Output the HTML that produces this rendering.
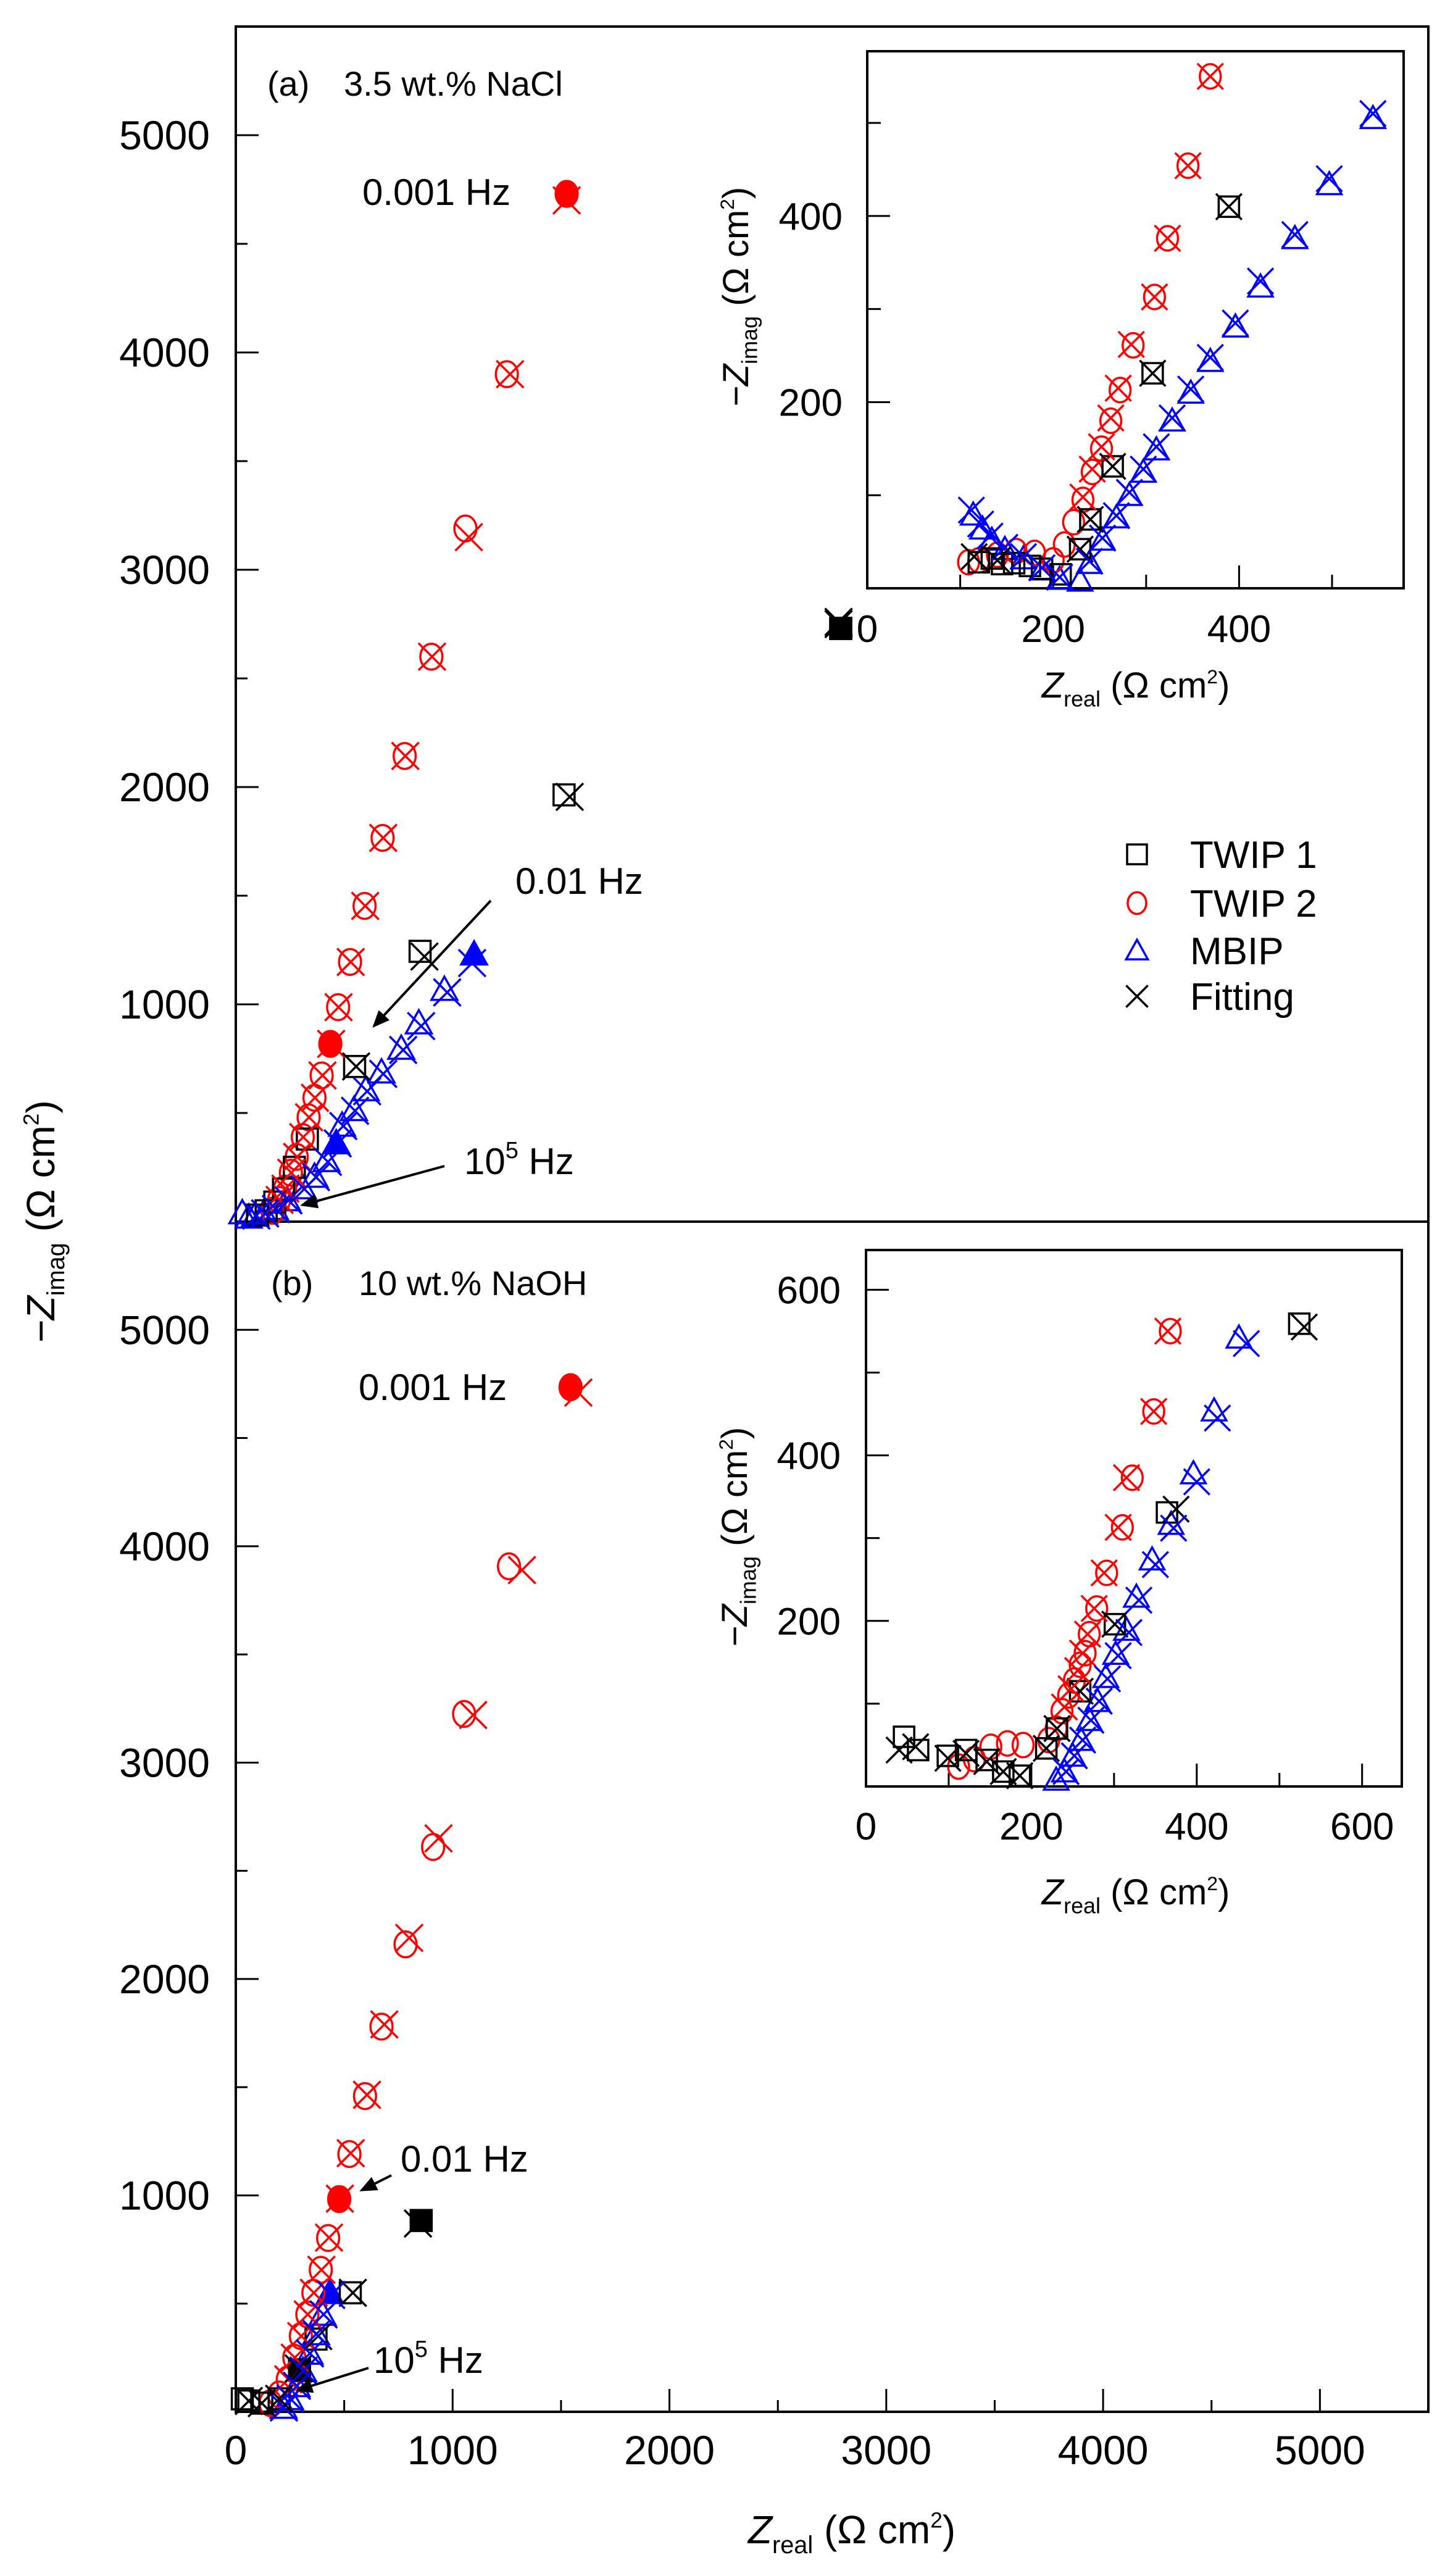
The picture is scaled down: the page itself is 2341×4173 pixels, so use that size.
<!DOCTYPE html>
<html><head><meta charset="utf-8"><style>
html,body{margin:0;padding:0;background:#fff;}
svg{display:block;font-family:"Liberation Sans",Arial,sans-serif;}
</style></head><body>
<svg id="chart" width="2341" height="4173" viewBox="0 0 2341 4173" xmlns="http://www.w3.org/2000/svg">
<rect x="0" y="0" width="2341" height="4173" fill="#fff"/>
<g id="layer"></g>
</svg>
<script>
// ===== Panel (a) main: 3.5 wt.% NaCl =====
const aTwip1X = [1514, 850, 548, 330, 270, 220, 180, 140, 100];
const aTwip1Y = [1964, 1244, 714, 380, 250, 150, 90, 50, 30];
const aTwip1FilledX = [2790];
const aTwip1FilledY = [2730];
const aTwip2X = [1250, 1059, 902, 779, 677, 594, 527, 472, 396, 363, 336, 309, 281, 254, 227, 200, 170];
const aTwip2Y = [3900, 3190, 2600, 2143, 1766, 1453, 1195, 987, 673, 570, 480, 389, 298, 225, 152, 100, 50];
const aTwip2FilledX = [1526, 436];
const aTwip2FilledY = [4730, 818];
const aMbipX = [962, 844, 763, 672, 599, 545, 490, 418, 363, 309, 236, 180, 130, 90, 60, 30];
const aMbipY = [1068, 914, 797, 688, 606, 515, 443, 280, 208, 155, 100, 60, 40, 30, 20, 40];
const aMbipFilledX = [1099, 463];
const aMbipFilledY = [1231, 362];
const aFitX = [1526, 1265, 1075, 905, 782, 680, 597, 530, 474, 440, 400, 365, 338, 311, 283, 256, 229, 202, 2780, 1540, 870, 555, 1090, 975, 855, 772, 680, 606, 550, 496, 470, 425, 370, 316, 243, 185, 135, 95];
const aFitY = [4700, 3900, 3150, 2600, 2143, 1766, 1453, 1195, 987, 818, 673, 570, 480, 389, 298, 225, 152, 100, 2750, 1955, 1220, 714, 1190, 1055, 900, 790, 680, 600, 510, 440, 360, 275, 205, 150, 98, 58, 38, 28];

// ===== Panel (b) main: 10 wt.% NaOH =====
const bTwip1X = [528, 370, 200, 120, 60, 30];
const bTwip1Y = [550, 336, 60, 40, 50, 60];
const bTwip1FilledX = [855, 294];
const bTwip1FilledY = [884, 194];
const bTwip2X = [1260, 1053, 910, 783, 672, 596, 524, 426, 392, 358, 330, 300, 270, 240, 200, 160];
const bTwip2Y = [3907, 3225, 2610, 2160, 1780, 1459, 1191, 803, 656, 550, 450, 350, 250, 150, 80, 40];
const bTwip2FilledX = [1544, 477];
const bTwip2FilledY = [4735, 983];
const bMbipX = [400, 370, 340, 310, 280, 250, 220];
const bMbipY = [450, 360, 270, 190, 120, 60, 20];
const bMbipFilledX = [434];
const bMbipFilledY = [550];
const bFitX = [1580, 1320, 1095, 935, 800, 685, 605, 530, 480, 430, 395, 360, 332, 302, 272, 242, 840, 540, 380, 290, 440, 405, 372, 342, 312, 282, 252, 222, 60, 120, 200];
const bFitY = [4710, 3890, 3220, 2650, 2190, 1790, 1465, 1195, 985, 805, 656, 550, 450, 350, 250, 150, 870, 550, 350, 200, 540, 450, 360, 270, 190, 120, 60, 20, 50, 40, 60];

// ===== Inset (a) =====
const iaTwip1X = [389, 307, 264, 240, 229, 134, 158, 188, 208, 120, 145, 175];
const iaTwip1Y = [410, 231, 131, 74, 42, 32, 27, 21, 15, 28, 26, 24];
const iaTwip2X = [369, 345, 323, 309, 286, 272, 262, 252, 242, 232, 222, 212, 200, 180, 160, 140, 120, 109];
const iaTwip2Y = [550, 454, 376, 313, 261, 213, 180, 150, 125, 95, 71, 47, 30, 38, 40, 36, 30, 28];
const iaMbipX = [544, 497, 460, 423, 396, 369, 348, 328, 311, 297, 282, 268, 253, 239, 229, 114, 124, 134, 148, 168, 188, 207];
const iaMbipY = [505, 434, 376, 324, 281, 244, 210, 180, 149, 125, 100, 76, 52, 27, 8, 79, 64, 52, 42, 32, 20, 10];
const iaFitX = [369, 345, 323, 309, 284, 270, 262, 252, 242, 232, 389, 307, 264, 240, 229, 544, 497, 460, 423, 396, 369, 348, 328, 311, 297, 282, 268, 253, 239, 112, 122, 132, 148, 168, 188, 207, 115, 140];
const iaFitY = [550, 454, 376, 313, 262, 215, 183, 152, 128, 98, 410, 231, 131, 74, 42, 510, 440, 380, 330, 285, 248, 214, 183, 152, 128, 103, 78, 54, 29, 84, 69, 56, 44, 34, 22, 12, 34, 30];

// ===== Inset (b) =====
const ibTwip1X = [524, 364, 301, 259, 231, 218, 46, 63, 99, 121, 146, 166, 186];
const ibTwip1Y = [559, 331, 196, 115, 70, 46, 60, 44, 37, 44, 32, 18, 13];
const ibTwip2X = [368, 348, 322, 310, 291, 279, 270, 265, 259, 252, 245, 237, 230, 221, 190, 171, 151, 131, 112];
const ibTwip2Y = [550, 453, 373, 313, 258, 215, 184, 161, 147, 128, 110, 91, 70, 56, 50, 52, 48, 33, 24];
const ibMbipX = [451, 421, 396, 369, 346, 327, 315, 302, 290, 280, 270, 260, 250, 240, 230];
const ibMbipY = [542, 454, 378, 317, 274, 229, 189, 160, 132, 103, 80, 56, 37, 18, 8];
const ibFitX = [530, 375, 301, 259, 231, 218, 40, 60, 99, 121, 146, 166, 186, 365, 348, 315, 305, 288, 276, 268, 262, 256, 248, 240, 460, 425, 400, 372, 350, 330, 318, 305, 292, 282, 272, 262, 252, 242];
const ibFitY = [555, 335, 196, 115, 70, 46, 44, 48, 34, 40, 30, 18, 13, 550, 453, 373, 313, 258, 215, 184, 161, 140, 118, 96, 535, 445, 368, 312, 268, 225, 186, 158, 130, 103, 80, 56, 37, 18];

// Tick label arrays
const mainXTicks = [0, 1000, 2000, 3000, 4000, 5000];
const mainYTicks = [1000, 2000, 3000, 4000, 5000];
const iaTicks = [0, 200, 400];
const ibTicks = [0, 200, 400, 600];

const NS = 'http://www.w3.org/2000/svg';
const layer = document.getElementById('layer');
function mk(tag, attrs, parent) {
  const e = document.createElementNS(NS, tag);
  for (const k in attrs) e.setAttribute(k, attrs[k]);
  (parent || layer).appendChild(e);
  return e;
}
function makeScale(d0, d1, p0, p1) { return v => p0 + (v - d0) * (p1 - p0) / (d1 - d0); }

const COL = {k: '#000', r: '#ff0000', b: '#0000ff'};

function marker(g, type, cx, cy, color, filled, s) {
  let e;
  const sw = 3.5;
  if (type === 'sq') {
    e = mk('rect', {x: cx - s / 2, y: cy - s / 2, width: s, height: s, fill: filled ? color : 'none', stroke: color, 'stroke-width': sw}, g);
  } else if (type === 'ci') {
    e = mk('ellipse', {cx: cx, cy: cy, rx: s * 0.47, ry: s * 0.55, fill: filled ? color : 'none', stroke: color, 'stroke-width': sw}, g);
  } else if (type === 'tr') {
    const h = s * 0.55;
    e = mk('polygon', {points: `${cx},${cy - h} ${cx - h},${cy + h * 0.8} ${cx + h},${cy + h * 0.8}`, fill: filled ? color : 'none', stroke: color, 'stroke-width': sw}, g);
  } else {
    const h = s * 0.55;
    e = mk('path', {d: `M${cx - h},${cy - h}L${cx + h},${cy + h}M${cx + h},${cy - h}L${cx - h},${cy + h}`, stroke: color, 'stroke-width': sw, fill: 'none'}, g);
  }
  return e;
}

function series(g, xs, ys, sx, sy, type, color, filled, s, name) {
  for (let i = 0; i < xs.length; i++) {
    const e = marker(g, type, sx(xs[i]), sy(ys[i]), color, filled, s);
    
    
  }
}

function text(str, x, y, size, anchor, name, parent) {
  const t = mk('text', {x: x, y: y, 'font-size': size, 'text-anchor': anchor || 'start', fill: '#000'}, parent);
  t.textContent = str;
  
  
  return t;
}

function zTitle(x, y, size, sub, minus, rotate, name) {
  const t = mk('text', {x: x, y: y, 'font-size': size, 'text-anchor': 'middle', fill: '#000'});
  if (rotate) t.setAttribute('transform', `rotate(-90 ${x} ${y})`);
  
  
  const a = mk('tspan', {'font-style': 'italic'}, t); a.textContent = (minus ? '\u2212' : '') + 'Z';
  const b = mk('tspan', {'font-size': size * 0.62, dy: size * 0.25}, t); b.textContent = sub;
  const c = mk('tspan', {dy: -size * 0.25}, t); c.textContent = ' (\u03A9 cm';
  const d = mk('tspan', {'font-size': size * 0.55, dy: -size * 0.4}, t); d.textContent = '2';
  const e = mk('tspan', {dy: size * 0.4}, t); e.textContent = ')';
  return t;
}

// ---------- main panels ----------
const MX0 = 382, MX1 = 2314;
const mx = makeScale(0, 5500, MX0, MX1);
function mainPanel(top, bottom, label, showX) {
  const my = makeScale(0, 5500, bottom, top);
  const g = mk('g', {});
  
  
  mk('rect', {x: MX0, y: top, width: MX1 - MX0, height: bottom - top, fill: 'none', stroke: '#000', 'stroke-width': 4}, g);
  for (let v = 500; v < 5500; v += 500) {
    const major = v % 1000 === 0;
    mk('line', {x1: MX0, x2: MX0 + (major ? 37 : 19), y1: my(v), y2: my(v), stroke: '#000', 'stroke-width': 3}, g);
  }
  if (showX) {
    for (let v = 500; v < 5500; v += 500) {
      const major = v % 1000 === 0;
      mk('line', {x1: mx(v), x2: mx(v), y1: bottom, y2: bottom - (major ? 37 : 19), stroke: '#000', 'stroke-width': 3}, g);
    }
  }
  mainYTicks.forEach(v => text(String(v), 340, my(v) + 23, 66, 'end', label + '-y-tick-label'));
  return my;
}

const myA = mainPanel(43, 1979, 'panel-a', false);
const myB = mainPanel(1979, 3907, 'panel-b', true);
mainXTicks.forEach(v => text(String(v), mx(v), 3992, 66, 'middle', 'x-tick-label'));

// panel a data
const gA = mk('g', {});


series(gA, aMbipX, aMbipY, mx, myA, 'tr', COL.b, false, 38, 'mbip-point');
series(gA, aMbipFilledX, aMbipFilledY, mx, myA, 'tr', COL.b, true, 38, 'mbip-filled-point');
series(gA, aTwip2X, aTwip2Y, mx, myA, 'ci', COL.r, false, 38, 'twip2-point');
series(gA, aTwip2FilledX, aTwip2FilledY, mx, myA, 'ci', COL.r, true, 38, 'twip2-filled-point');
series(gA, aTwip1X, aTwip1Y, mx, myA, 'sq', COL.k, false, 34, 'twip1-point');
series(gA, aTwip1FilledX, aTwip1FilledY, mx, myA, 'sq', COL.k, true, 34, 'twip1-filled-point');
series(gA, aFitX.slice(0, 18), aFitY.slice(0, 18), mx, myA, 'x', COL.r, false, 40, 'fit-twip2');
series(gA, aFitX.slice(18, 22), aFitY.slice(18, 22), mx, myA, 'x', COL.k, false, 40, 'fit-twip1');
series(gA, aFitX.slice(22), aFitY.slice(22), mx, myA, 'x', COL.b, false, 40, 'fit-mbip');

// panel b data
const gB = mk('g', {});


series(gB, bMbipX, bMbipY, mx, myB, 'tr', COL.b, false, 38, 'mbip-point');
series(gB, bMbipFilledX, bMbipFilledY, mx, myB, 'tr', COL.b, true, 38, 'mbip-filled-point');
series(gB, bTwip2X, bTwip2Y, mx, myB, 'ci', COL.r, false, 38, 'twip2-point');
series(gB, bTwip2FilledX, bTwip2FilledY, mx, myB, 'ci', COL.r, true, 38, 'twip2-filled-point');
series(gB, bTwip1X, bTwip1Y, mx, myB, 'sq', COL.k, false, 34, 'twip1-point');
series(gB, bTwip1FilledX, bTwip1FilledY, mx, myB, 'sq', COL.k, true, 34, 'twip1-filled-point');
series(gB, bFitX.slice(0, 16), bFitY.slice(0, 16), mx, myB, 'x', COL.r, false, 40, 'fit-twip2');
series(gB, bFitX.slice(16, 20), bFitY.slice(16, 20), mx, myB, 'x', COL.k, false, 40, 'fit-twip1');
series(gB, bFitX.slice(20, 28), bFitY.slice(20, 28), mx, myB, 'x', COL.b, false, 40, 'fit-mbip');
series(gB, bFitX.slice(28), bFitY.slice(28), mx, myB, 'x', COL.k, false, 40, 'fit-twip1');

// ---------- insets ----------
function inset(L, T, R, B, max, ticks, minorStep, name, d) {
  const sx = makeScale(0, max, L, R);
  const sy = makeScale(0, max, B, T);
  const g = mk('g', {});
  
  
  mk('rect', {x: L, y: T, width: R - L, height: B - T, fill: '#fff', stroke: '#000', 'stroke-width': 4}, g);
  for (let v = minorStep; v < max; v += minorStep) {
    const major = ticks.indexOf(v) >= 0;
    mk('line', {x1: L, x2: L + (major ? 37 : 22), y1: sy(v), y2: sy(v), stroke: '#000', 'stroke-width': 3}, g);
    mk('line', {x1: sx(v), x2: sx(v), y1: B, y2: B - (major ? 37 : 22), stroke: '#000', 'stroke-width': 3}, g);
  }
  const gs = mk('g', {}, g);
  series(gs, d.mx, d.my, sx, sy, 'tr', COL.b, false, 36, 'inset-mbip-point');
  series(gs, d.rx, d.ry, sx, sy, 'ci', COL.r, false, 36, 'inset-twip2-point');
  series(gs, d.kx, d.ky, sx, sy, 'sq', COL.k, false, 33, 'inset-twip1-point');
  for (let i = 0; i < d.fx.length; i++) {
    const c = d.fc(i);
    const e = marker(gs, 'x', sx(d.fx[i]), sy(d.fy[i]), c, false, 38);
    
    
  }
  return {sx, sy};
}

const A = inset(1405, 83, 2274, 953, 577, [200, 400], 100, 'inset-a', {
  mx: iaMbipX, my: iaMbipY, rx: iaTwip2X, ry: iaTwip2Y, kx: iaTwip1X, ky: iaTwip1Y,
  fx: iaFitX, fy: iaFitY, fc: i => i < 10 ? COL.r : (i < 15 ? COL.k : (i < 36 ? COL.b : COL.k))
});
iaTicks.forEach(v => text(String(v), A.sx(v), 1040, 62, 'middle', 'inset-a-x-tick-label'));
[200, 400].forEach(v => text(String(v), 1365, A.sy(v) + 22, 62, 'end', 'inset-a-y-tick-label'));
// stray main-plot TWIP1 0.001 Hz point overlapping the label region
const stray = marker(layer, 'sq', mx(2790), myA(2730), COL.k, true, 34);


const strayX = marker(layer, 'x', mx(2780), myA(2760), COL.k, false, 40);



const Bi = inset(1403, 2025, 2271, 2894, 648, [200, 400, 600], 100, 'inset-b', {
  mx: ibMbipX, my: ibMbipY, rx: ibTwip2X, ry: ibTwip2Y, kx: ibTwip1X, ky: ibTwip1Y,
  fx: ibFitX, fy: ibFitY, fc: i => i < 13 ? COL.k : (i < 24 ? COL.r : COL.b)
});
ibTicks.forEach(v => text(String(v), Bi.sx(v), 2980, 62, 'middle', 'inset-b-x-tick-label'));
[200, 400, 600].forEach(v => text(String(v), 1362, Bi.sy(v) + 22, 62, 'end', 'inset-b-y-tick-label'));

// ---------- titles ----------
zTitle(88, 1979, 64, 'imag', true, true, 'y-axis-title');
zTitle(1380, 4120, 64, 'real', false, false, 'x-axis-title');
zTitle(1212, 481, 58, 'imag', true, true, 'inset-a-y-axis-title');
zTitle(1840, 1130, 58, 'real', false, false, 'inset-a-x-axis-title');
zTitle(1210, 2490, 58, 'imag', true, true, 'inset-b-y-axis-title');
zTitle(1840, 3085, 58, 'real', false, false, 'inset-b-x-axis-title');

// ---------- annotations ----------
text('(a)', 433, 155, 56, 'start', 'panel-a-label');
text('3.5 wt.% NaCl', 557, 155, 56, 'start', 'panel-a-electrolyte');
text('0.001 Hz', 587, 332, 60, 'start', 'panel-a-0001hz-label');
text('0.01 Hz', 835, 1448, 60, 'start', 'panel-a-001hz-label');
const a5 = text('10', 752, 1902, 60, 'start', 'panel-a-1e5hz-label');
const a5s = mk('tspan', {'font-size': 38, dy: -26}, a5); a5s.textContent = '5';
const a5h = mk('tspan', {dy: 26}, a5); a5h.textContent = ' Hz';
text('(b)', 439, 2098, 56, 'start', 'panel-b-label');
text('10 wt.% NaOH', 581, 2098, 56, 'start', 'panel-b-electrolyte');
text('0.001 Hz', 581, 2268, 60, 'start', 'panel-b-0001hz-label');
text('0.01 Hz', 649, 3518, 60, 'start', 'panel-b-001hz-label');
const b5 = text('10', 605, 3844, 60, 'start', 'panel-b-1e5hz-label');
const b5s = mk('tspan', {'font-size': 38, dy: -26}, b5); b5s.textContent = '5';
const b5h = mk('tspan', {dy: 26}, b5); b5h.textContent = ' Hz';

mk('defs', {}).innerHTML = '<marker id="ah" markerWidth="8" markerHeight="8" refX="6" refY="4" orient="auto" markerUnits="strokeWidth"><path d="M0,1L7,4L0,7z" fill="#000"/></marker>';
function arrow(x1, y1, x2, y2, name) {
  const l = mk('line', {x1, y1, x2, y2, stroke: '#000', 'stroke-width': 4, 'marker-end': 'url(#ah)'});
  
  
}
arrow(795, 1459, 606, 1662, 'panel-a-001hz-arrow');
arrow(720, 1889, 490, 1952, 'panel-a-1e5hz-arrow');
arrow(634, 3524, 586, 3548, 'panel-b-001hz-arrow');
arrow(597, 3836, 482, 3872, 'panel-b-1e5hz-arrow');

// ---------- legend ----------
const leg = mk('g', {});


const legNames = ['TWIP 1', 'TWIP 2', 'MBIP', 'Fitting'];
const legTypes = ['sq', 'ci', 'tr', 'x'];
const legCols = [COL.k, COL.r, COL.b, COL.k];
const legY = [1384, 1463, 1540, 1614];
for (let i = 0; i < 4; i++) {
  const e = marker(leg, legTypes[i], 1842, legY[i], legCols[i], false, 32);
  
  
  text(legNames[i], 1928, legY[i] + 22, 62, 'start', 'legend-entry', leg);
}
</script>
</body></html>
